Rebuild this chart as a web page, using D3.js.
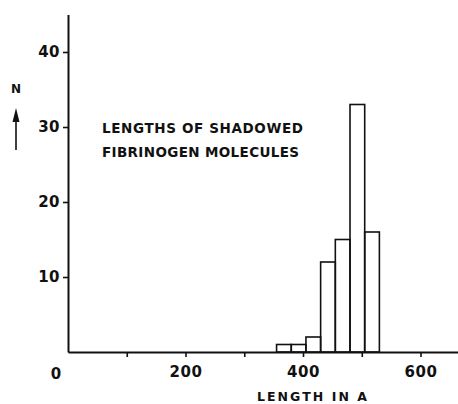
<!DOCTYPE html>
<html>
<head>
<meta charset="utf-8">
<script src="https://cdn.jsdelivr.net/npm/d3@7"></script>
<style>
  body { margin: 0; background: #fff; }
  svg text { font-family: "DejaVu Sans", sans-serif; font-weight: bold; fill: #111; }
</style>
</head>
<body>
<script>
// histogram bins (lower edge, in A) and counts
var binStarts = [355, 380, 405, 430, 455, 480, 505]
var binWidth = 25
var counts = [1, 1, 2, 12, 15, 33, 16]

var xMajorTicks = [200, 400, 600]
var xMinorTicks = [100, 300, 500]
var yTicks = [10, 20, 30, 40]

var title = ["LENGTHS OF SHADOWED", "FIBRINOGEN MOLECULES"]

var screen = {width: 458, height: 404}

var xScale = d3.scaleLinear()
    .domain([0, 665])
    .range([68, 458.7])

var yScale = d3.scaleLinear()
    .domain([0, 45])
    .range([352, 14.5])

var svg = d3.select("body")
    .append("svg")
    .attr("width", screen.width)
    .attr("height", screen.height)

// bars
svg.append("g")
    .attr("id", "bars")
    .selectAll("rect")
    .data(counts)
    .enter()
    .append("rect")
    .attr("x", function(d, i) {return xScale(binStarts[i])})
    .attr("width", function(d, i) {return xScale(binStarts[i] + binWidth) - xScale(binStarts[i])})
    .attr("y", function(d) {return yScale(d)})
    .attr("height", function(d) {return yScale(0) - yScale(d)})
    .attr("fill", "none")
    .attr("stroke", "#111")
    .attr("stroke-width", 1.6)

// x axis
var xAxis = d3.axisBottom(xScale)
    .tickValues(xMajorTicks)
    .tickSize(5)
    .tickSizeOuter(0)
    .tickPadding(9)
    .tickFormat(d3.format("d"))

var gx = svg.append("g")
    .attr("id", "xAxis")
    .attr("transform", "translate(0," + yScale(0) + ")")
    .call(xAxis)

svg.append("g")
    .attr("transform", "translate(0," + yScale(0) + ")")
    .call(d3.axisBottom(xScale).tickValues(xMinorTicks).tickSize(5).tickSizeOuter(0).tickFormat(""))
    .select(".domain").remove()

// y axis
var yAxis = d3.axisLeft(yScale)
    .tickValues(yTicks)
    .tickSize(5)
    .tickSizeOuter(0)
    .tickPadding(3)

var gy = svg.append("g")
    .attr("id", "yAxis")
    .attr("transform", "translate(" + xScale(0) + ",0)")
    .call(yAxis)

svg.selectAll(".domain").attr("stroke", "#111").attr("stroke-width", 2)
svg.selectAll(".tick line").attr("stroke", "#111").attr("stroke-width", 1.6)
svg.selectAll(".tick text")
    .style("font-family", "'DejaVu Sans', sans-serif")
    .style("font-weight", "bold")
    .style("font-size", "15px")
    .attr("fill", "#111")
    .attr("letter-spacing", "0.5px")

// the lone zero, set left of the corner
svg.append("text")
    .attr("x", xScale(0) - 12)
    .attr("y", 379)
    .attr("text-anchor", "middle")
    .style("font-size", "15px")
    .text("0")

// x axis title
svg.append("text")
    .attr("x", 312)
    .attr("y", 401)
    .attr("text-anchor", "middle")
    .style("font-size", "12.5px")
    .attr("textLength", 110)
    .attr("lengthAdjust", "spacing")
    .text("LENGTH IN A")

// y axis title: N with an up arrow
svg.append("text")
    .attr("x", 16)
    .attr("y", 93)
    .attr("text-anchor", "middle")
    .style("font-size", "12px")
    .text("N")

svg.append("line")
    .attr("x1", 16).attr("x2", 16)
    .attr("y1", 118).attr("y2", 150)
    .attr("stroke", "#111")
    .attr("stroke-width", 1.6)

svg.append("path")
    .attr("d", "M16,108 L12.5,122 L19.5,122 Z")
    .attr("fill", "#111")

// annotation inside the plot
svg.append("g")
    .selectAll("text")
    .data(title)
    .enter()
    .append("text")
    .attr("x", 102)
    .attr("y", function(d, i) {return 133 + i * 24})
    .style("font-size", "13.5px")
    .attr("textLength", function(d, i) {return i == 0 ? 201 : 197})
    .attr("lengthAdjust", "spacing")
    .text(function(d) {return d})
</script>
</body>
</html>
